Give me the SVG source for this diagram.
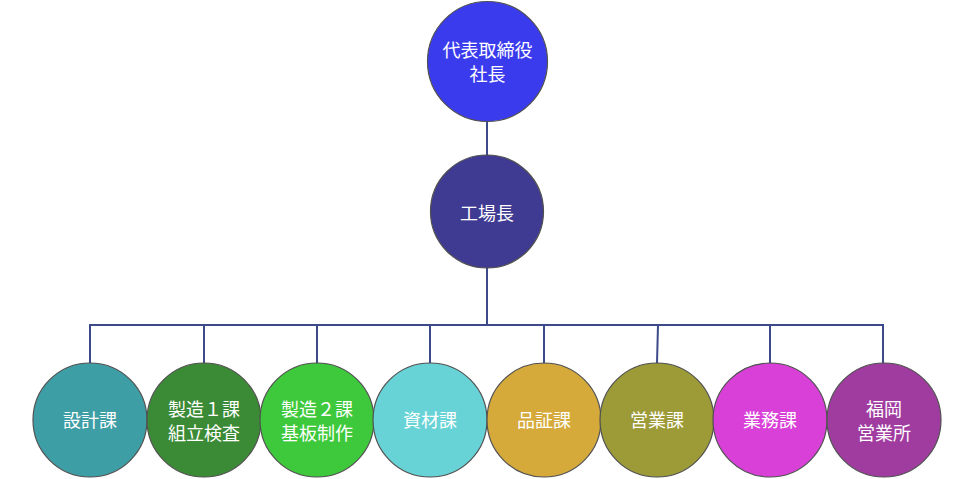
<svg xmlns="http://www.w3.org/2000/svg" width="980" height="479" viewBox="0 0 980 479">
<style>
.n{stroke:#505050;stroke-width:1.2}
.t{fill:#ffffff;font-family:"Noto Sans CJK JP","Noto Sans CJK SC",sans-serif;font-size:18px;text-anchor:middle;dominant-baseline:central}
.c{stroke:#3d4a8a;stroke-width:2;fill:none}
</style>
<rect width="980" height="479" fill="#ffffff"/>
<g id="connectors">
<line class="c" x1="487" y1="121" x2="487" y2="156"/>
<line class="c" x1="487" y1="267" x2="487" y2="325"/>
<polyline class="c" points="90,363 90,325 883,325 883,363"/>
<line class="c" x1="204" y1="325" x2="204" y2="363"/>
<line class="c" x1="317" y1="325" x2="317" y2="363"/>
<line class="c" x1="430" y1="325" x2="430" y2="363"/>
<line class="c" x1="544" y1="325" x2="544" y2="363"/>
<line class="c" x1="658" y1="325" x2="657" y2="363"/>
<line class="c" x1="770" y1="325" x2="770" y2="363"/>
</g>
<g id="president">
<circle class="n" cx="487.5" cy="61.5" r="60" fill="#3b3bee"/>
<text class="t" x="487.5" y="49">代表取締役</text>
<text class="t" x="487.5" y="73">社長</text>
</g>
<g id="factory">
<circle class="n" cx="487" cy="211.5" r="56.5" fill="#3f3b92"/>
<text class="t" x="487" y="212">工場長</text>
</g>
<g id="sekkei">
<circle class="n" cx="90" cy="420" r="57" fill="#3e9ea6"/>
<text class="t" x="90" y="419">設計課</text>
</g>
<g id="seizo1">
<circle class="n" cx="204" cy="420" r="57" fill="#3b8a35"/>
<text class="t" x="204" y="408">製造１課</text>
<text class="t" x="204" y="432">組立検査</text>
</g>
<g id="seizo2">
<circle class="n" cx="317" cy="420" r="57" fill="#3ec93c"/>
<text class="t" x="317" y="408">製造２課</text>
<text class="t" x="317" y="432">基板制作</text>
</g>
<g id="shizai">
<circle class="n" cx="430" cy="420" r="57" fill="#68d3d6"/>
<text class="t" x="430" y="419">資材課</text>
</g>
<g id="hinsho">
<circle class="n" cx="544" cy="420" r="57" fill="#d5aa3b"/>
<text class="t" x="544" y="419">品証課</text>
</g>
<g id="eigyo">
<circle class="n" cx="657" cy="420" r="57" fill="#9d9a38"/>
<text class="t" x="657" y="419">営業課</text>
</g>
<g id="gyomu">
<circle class="n" cx="770" cy="420" r="57" fill="#d840d8"/>
<text class="t" x="770" y="419">業務課</text>
</g>
<g id="fukuoka">
<circle class="n" cx="884" cy="420" r="57" fill="#a03c9f"/>
<text class="t" x="884" y="408">福岡</text>
<text class="t" x="884" y="432">営業所</text>
</g>
</svg>
